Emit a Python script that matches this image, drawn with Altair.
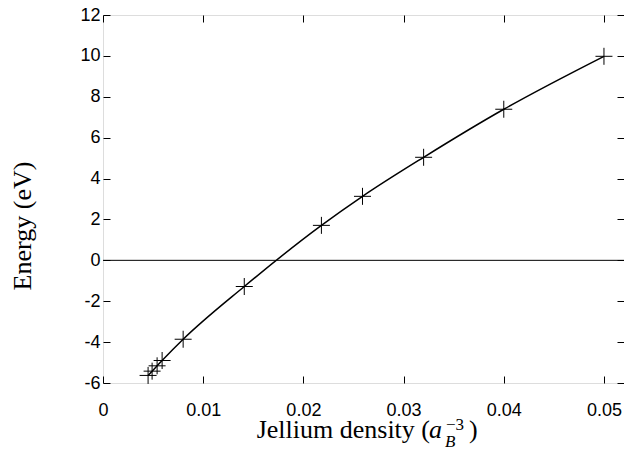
import altair as alt
import pandas as pd

# ---- data ----
density = [0.0045, 0.0049, 0.0054, 0.0059, 0.0080, 0.0141, 0.0218, 0.0259, 0.0320, 0.0400, 0.0500]
energy = [-5.63, -5.42, -5.16, -4.90, -3.86, -1.28, 1.71, 3.13, 5.04, 7.39, 9.98]
x_ticks = [0, 0.01, 0.02, 0.03, 0.04, 0.05]
y_ticks = [-6, -4, -2, 0, 2, 4, 6, 8, 10, 12]
zero_level = [0]
x_domain = [0, 0.052]
y_domain = [-6, 12]

df = pd.DataFrame({"density": density, "energy": energy})
zero_df = pd.DataFrame({"level": zero_level})

W, H = 521, 368
TICK = 7
LABEL_FONT = "Liberation Sans"
TITLE_FONT = "Liberation Serif"

xs = alt.Scale(domain=x_domain, nice=False, zero=False)
ys = alt.Scale(domain=y_domain, nice=False, zero=False)

common = dict(offset=-TICK, tickSize=TICK, domain=False, grid=False, tickColor="black",
              tickWidth=1, title=None)

x_bottom = alt.Axis(orient="bottom", values=x_ticks, format="~g", labelFont=LABEL_FONT,
                    labelFontSize=18, labelColor="black", labelPadding=18, labelFlush=False,
                    labelOverlap=False, **common)
y_left = alt.Axis(orient="left", values=y_ticks, labelFont=LABEL_FONT, labelFontSize=18,
                  labelColor="black", labelPadding=3, labelOverlap=False,
                  labelExpr="replace(datum.label, '\u2212', '-')", **common)
x_top = alt.Axis(orient="top", values=x_ticks, labels=False, **common)
y_right = alt.Axis(orient="right", values=y_ticks, labels=False, **common)

zero_rule = alt.Chart(zero_df).mark_rule(color="black", strokeWidth=1).encode(
    y=alt.Y("level:Q", scale=ys, axis=None)
)

curve = alt.Chart(df).mark_line(color="black", strokeWidth=1.5, interpolate="monotone").encode(
    x=alt.X("density:Q", scale=xs, axis=x_bottom),
    y=alt.Y("energy:Q", scale=ys, axis=y_left),
)

points = alt.Chart(df).mark_point(
    shape="M-1,0H1M0,-1V1", size=289, filled=False, color="black", strokeWidth=1, opacity=1
).encode(
    x=alt.X("density:Q", scale=xs, axis=x_top),
    y=alt.Y("energy:Q", scale=ys, axis=y_right),
)

t_main = alt.Chart(pd.DataFrame({"t": ["Jellium density ("]})).mark_text(
    font=TITLE_FONT, fontSize=26, align="right", baseline="alphabetic", color="black"
).encode(text="t:N", x=alt.value(327), y=alt.value(423))

t_a = alt.Chart(pd.DataFrame({"t": ["a"]})).mark_text(
    font=TITLE_FONT, fontSize=26, fontStyle="italic", align="left", baseline="alphabetic", color="black"
).encode(text="t:N", x=alt.value(326), y=alt.value(423))

t_sup = alt.Chart(pd.DataFrame({"t": ["\u22123"]})).mark_text(
    font=TITLE_FONT, fontSize=17, align="left", baseline="alphabetic", color="black"
).encode(text="t:N", x=alt.value(343), y=alt.value(415))

t_sub = alt.Chart(pd.DataFrame({"t": ["B"]})).mark_text(
    font=TITLE_FONT, fontSize=17, fontStyle="italic", align="left", baseline="alphabetic", color="black"
).encode(text="t:N", x=alt.value(342), y=alt.value(432))

t_close = alt.Chart(pd.DataFrame({"t": [")"]})).mark_text(
    font=TITLE_FONT, fontSize=26, align="left", baseline="alphabetic", color="black"
).encode(text="t:N", x=alt.value(366), y=alt.value(423))

t_y = alt.Chart(pd.DataFrame({"t": ["Energy (eV)"]})).mark_text(
    font=TITLE_FONT, fontSize=26, align="center", baseline="middle", angle=270, color="black"
).encode(text="t:N", x=alt.value(-80), y=alt.value(211))

chart = alt.layer(
    zero_rule, curve, points, t_main, t_a, t_sup, t_sub, t_close, t_y
).resolve_axis(
    x="independent", y="independent"
).properties(
    width=W, height=H,
    autosize=alt.AutoSizeParams(type="none"),
    padding={"left": 95, "top": 7, "right": 0, "bottom": 75},
).configure_view(
    stroke="black", strokeWidth=1
).configure(background="white")

chart.save("out.html", embed_options={"renderer": "svg", "actions": False})
